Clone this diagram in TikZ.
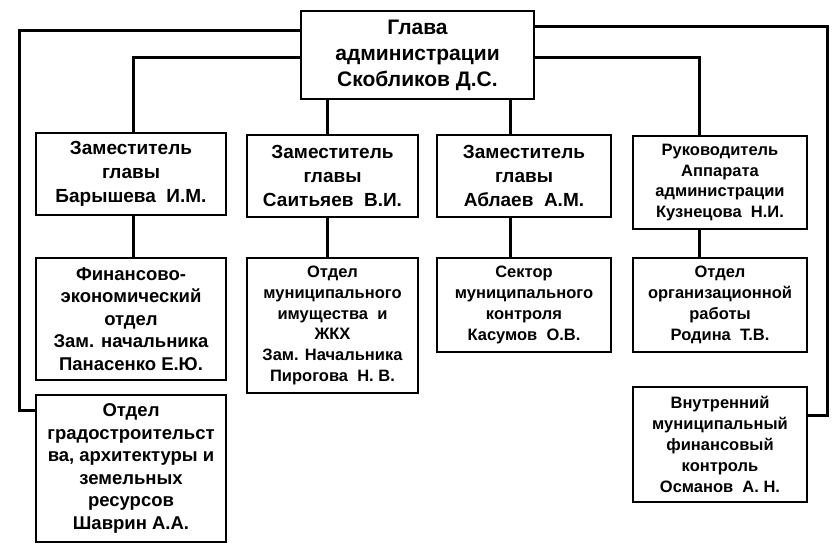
\documentclass[tikz,border=0pt]{standalone}
\usepackage{fontspec}
\setmainfont{Liberation Sans}

\begin{document}
\begin{tikzpicture}[x=1pt,y=-1pt]
   \tikzstyle{every node}=[draw, rectangle, line width=2.4pt, align=center, inner sep=2pt]
   \tikzstyle{chief}=[font=\fontsize{21}{26}\selectfont\bfseries]
   \tikzstyle{deputy}=[font=\fontsize{19}{24}\selectfont\bfseries]
   \tikzstyle{unitwide}=[font=\fontsize{18.5}{22.5}\selectfont\bfseries]
   \tikzstyle{unit}=[font=\fontsize{16.5}{20.8}\selectfont\bfseries]
   \tikzstyle{link}=[line width=3pt]

\useasboundingbox (0,0) rectangle (837,552);

\node[chief, minimum width=233pt, minimum height=88pt] (head) at (417.5,55) {Глава\\администрации\\Скобликов Д.С.};

% deputies
\node[deputy, minimum width=190pt, minimum height=82pt] (dep1) at (131,174) {Заместитель\\главы\\Барышева\ \ И.М.};
\node[deputy, minimum width=171pt, minimum height=82pt] (dep2) at (332.5,176) {Заместитель\\главы\\Саитьяев\ \ В.И.};
\node[deputy, minimum width=174pt, minimum height=82pt] (dep3) at (524,176) {Заместитель\\главы\\Аблаев\ \ А.М.};
\node[unit, minimum width=174pt, minimum height=93pt] (dep4) at (720,182.5) {Руководитель\\Аппарата\\администрации\\Кузнецова\ \ Н.И.};

% departments
\node[unitwide, minimum width=190pt, minimum height=122pt] (fin) at (131,319) {Финансово-\\экономический\\отдел\\Зам. начальника\\Панасенко Е.Ю.};
\node[unit, minimum width=171pt, minimum height=135pt] (imu) at (332.5,325.5) {Отдел\\муниципального\\имущества\ \ и\\ЖКХ\\Зам. Начальника\\Пирогова\ \ Н. В.};
\node[unit, minimum width=174pt, minimum height=94pt] (ctrl) at (524,305) {Сектор\\муниципального\\контроля\\Касумов\ \ О.В.};
\node[unit, minimum width=174pt, minimum height=94pt] (org) at (720,305) {Отдел\\организационной\\работы\\Родина\ \ Т.В.};
\node[unitwide, minimum width=190pt, minimum height=147pt] (grad) at (131,468.5) {Отдел\\градостроительст\\ва, архитектуры и\\земельных\\ресурсов\\Шаврин А.А.};
\node[unit, minimum width=174pt, minimum height=115pt] (audit) at (720,444.5) {Внутренний\\муниципальный\\финансовый\\контроль\\Османов\ \ А. Н.};

\coordinate (lft) at (19,410);
\coordinate (rgt) at (827,415);

% outer lines
\draw[link] ([yshift=25pt]head.west) -| (lft) -- (lft -| grad.west);
\draw[link] ([yshift=29pt]head.east) -| (rgt) -- (rgt -| audit.east);

% head to deputies
\draw[link] ([yshift=-2pt]head.west) -| ([xshift=2pt]dep1.north);
\draw[link] ([yshift=-2pt]head.east) -| ([xshift=-21pt]dep4.north);
\draw[link] ([xshift=-5.5pt]dep2.north) -- ([xshift=-5.5pt]dep2.north |- head.south);
\draw[link] ([xshift=-14pt]dep3.north) -- ([xshift=-14pt]dep3.north |- head.south);

% deputies to departments
\draw[link] ([xshift=2pt]dep1.south) -- ([xshift=2pt]fin.north);
\draw[link] ([xshift=-5.5pt]dep2.south) -- ([xshift=-5.5pt]imu.north);
\draw[link] ([xshift=-14pt]dep3.south) -- ([xshift=-14pt]ctrl.north);
\draw[link] ([xshift=-21pt]dep4.south) -- ([xshift=-21pt]org.north);

\end{tikzpicture}
\end{document}
